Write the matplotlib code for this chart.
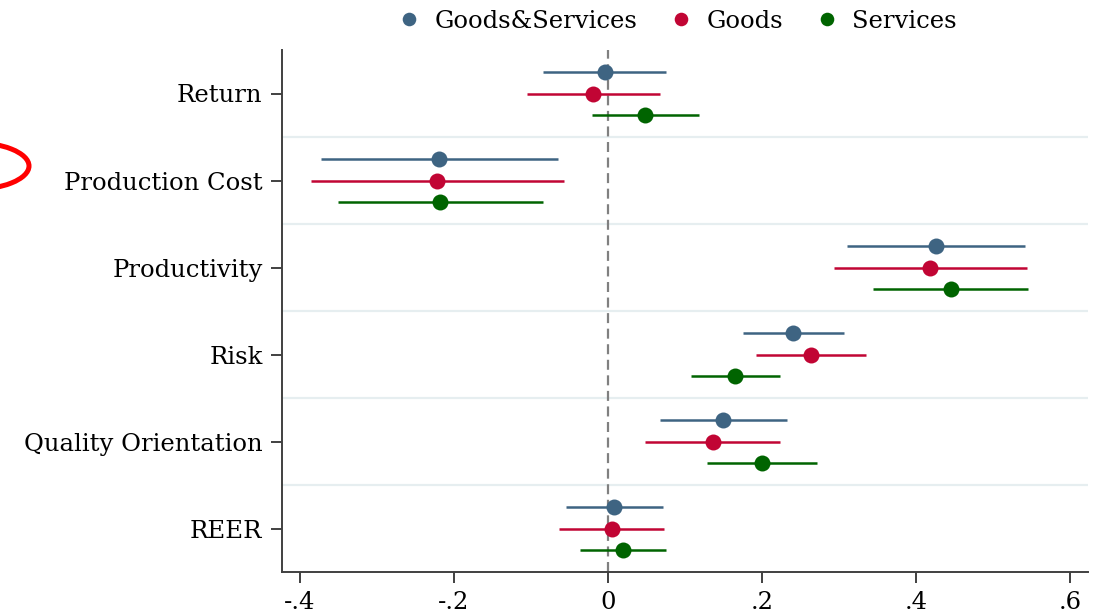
import matplotlib
matplotlib.use("Agg")
import matplotlib.pyplot as plt
from matplotlib.patches import Ellipse
import numpy as np

plt.rcParams['font.family'] = ['DejaVu Serif']

# categories from top to bottom
categories = ['Return', 'Production Cost', 'Productivity', 'Risk',
              'Quality Orientation', 'REER']
series = ['Goods&Services', 'Goods', 'Services']
colors = ['#3e6482', '#c10534', '#006400']

# point estimates
coef_gs = [-0.004, -0.219, 0.426, 0.240, 0.150, 0.008]
coef_goods = [-0.019, -0.222, 0.418, 0.263, 0.136, 0.005]
coef_serv = [0.048, -0.218, 0.445, 0.165, 0.200, 0.020]

# confidence bounds
lo_gs = [-0.084, -0.373, 0.310, 0.175, 0.068, -0.055]
hi_gs = [0.075, -0.065, 0.542, 0.307, 0.232, 0.072]
lo_goods = [-0.105, -0.386, 0.294, 0.192, 0.048, -0.063]
hi_goods = [0.068, -0.057, 0.544, 0.335, 0.224, 0.073]
lo_serv = [-0.021, -0.351, 0.344, 0.108, 0.128, -0.036]
hi_serv = [0.118, -0.084, 0.546, 0.223, 0.271, 0.075]

xticks = [-0.4, -0.2, 0, 0.2, 0.4, 0.6]
xtick_labels = ['-.4', '-.2', '0', '.2', '.4', '.6']

coefs = [coef_gs, coef_goods, coef_serv]
los = [lo_gs, lo_goods, lo_serv]
his = [hi_gs, hi_goods, hi_serv]
offsets = [-0.25, 0.0, 0.25]

fig = plt.figure(figsize=(11.02, 6.13), dpi=100)
ax = fig.add_axes([282 / 1102, 1 - 572 / 613, (1088 - 282) / 1102, (572 - 50) / 613])

n = len(categories)
ypos = np.arange(n)

# group separators
for b in np.arange(0.5, n - 0.5, 1.0):
    ax.axhline(b, color='#e6eef0', lw=1.6, zorder=0)

ax.axvline(0, color='#808080', lw=1.6, ls=(0, (4.5, 2.5)), zorder=1)

for coef, lo, hi, off, c, name in zip(coefs, los, his, offsets, colors, series):
    y = ypos + off
    ax.hlines(y, lo, hi, color=c, lw=1.8, zorder=2)
    ax.plot(coef, y, 'o', color=c, ms=11.5, mec='none', zorder=3, label=name)

ax.set_ylim(n - 0.5, -0.5)
ax.set_xlim(-0.4234, 0.6234)
ax.set_yticks(ypos)
ax.set_yticklabels(categories, fontsize=17.5)
ax.set_xticks(xticks)
ax.set_xticklabels(xtick_labels, fontsize=17.5)

for s in ['top', 'right']:
    ax.spines[s].set_visible(False)
for s in ['left', 'bottom']:
    ax.spines[s].set_color('#404040')
    ax.spines[s].set_linewidth(1.4)
ax.tick_params(axis='both', color='#404040', width=1.4, length=8, pad=6)

fig.legend(loc='center', bbox_to_anchor=(0.614, 1 - 21 / 613), ncol=3,
           frameon=False, fontsize=17.5, handletextpad=0.55, columnspacing=1.3,
           markerscale=0.85, handlelength=1.0)

# red annotation arc at the left edge
fig.patches.append(Ellipse((-31, 613 - 166), 120, 48, fill=False, ec='#ff0000',
                           lw=3.6, transform=None, figure=fig))

fig.savefig('out.png', dpi=100)
